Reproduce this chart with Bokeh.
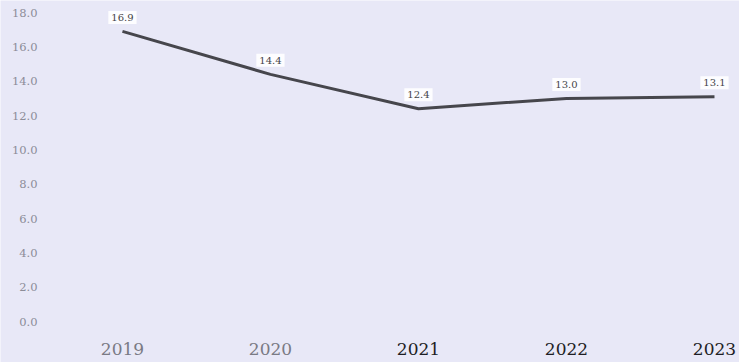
from bokeh.plotting import figure
from bokeh.models import ColumnDataSource, Range1d
from bokeh.core.properties import value
from bokeh.embed import file_html
from bokeh.resources import INLINE

# Yearly values
years = [2019, 2020, 2021, 2022, 2023]
values = [16.9, 14.4, 12.4, 13.0, 13.1]
year_labels = ["2019", "2020", "2021", "2022", "2023"]
year_colors = ["#7a7a84", "#7a7a84", "#1e1e24", "#1e1e24", "#1e1e24"]
y_ticks = [0, 2, 4, 6, 8, 10, 12, 14, 16, 18]

BG = "#e8e8f7"
SERIF = "DejaVu Serif"

X_START, X_END = 2018.176, 2023.169

src = ColumnDataSource(dict(
    x=years,
    y=values,
    lab=[f"{v:.1f}" for v in values],
    ylab=year_labels,
    ycol=year_colors,
    zero=[0] * len(years),
))
tick_src = ColumnDataSource(dict(
    x=[X_START] * len(y_ticks),
    y=y_ticks,
    lab=[f"{t:.1f}" for t in y_ticks],
))

p = figure(
    width=739, height=362,
    output_backend="svg", toolbar_location=None,
    x_range=Range1d(X_START, X_END),
    y_range=Range1d(-2.38, 18.70),
    min_border=0,
    background_fill_color=BG, border_fill_color=BG,
    outline_line_color=None,
)
p.axis.visible = False
p.grid.visible = False

# Value axis labels along the left edge
p.text(
    "x", "y", text="lab", source=tick_src,
    x_offset=37, text_align="right", text_baseline="middle",
    text_font=value(SERIF), text_font_size="11.5px", text_color="#8c8c98",
)

# Trend line
p.line("x", "y", source=src, line_color="#46464c", line_width=3, line_join="round")

# Value labels in white boxes above each point
p.text(
    "x", "y", text="lab", source=src,
    y_offset=-14, text_align="center", text_baseline="middle",
    text_font=value(SERIF), text_font_size="10px", text_color="#444448",
    background_fill_color="white", background_fill_alpha=0.9,
    padding=3,
)

# Year labels under the plot area
p.text(
    "x", "zero", text="ylab", source=src,
    y_offset=27, text_align="center", text_baseline="middle",
    text_font=value(SERIF), text_font_size="17px", text_color="ycol",
)

open("out.html", "w").write(file_html(p, INLINE))
